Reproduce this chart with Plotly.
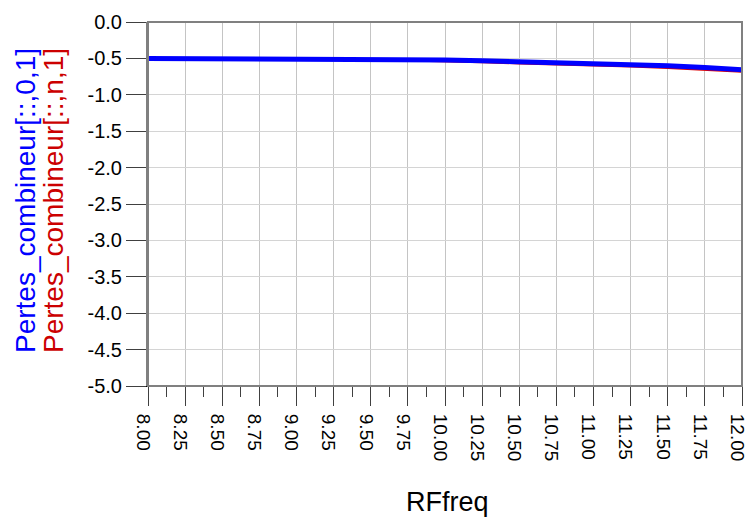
import plotly.graph_objects as go

freq = [8.00, 8.25, 8.50, 8.75, 9.00, 9.25, 9.50, 9.75, 10.00, 10.25, 10.50,
        10.75, 11.00, 11.25, 11.50, 11.75, 12.00]
pertes_0_1 = [-0.500, -0.501, -0.502, -0.503, -0.505, -0.507, -0.510, -0.515,
              -0.523, -0.532, -0.543, -0.555, -0.568, -0.585, -0.602, -0.625, -0.655]
pertes_n_1 = [-0.502, -0.504, -0.506, -0.510, -0.514, -0.518, -0.522, -0.528,
              -0.538, -0.553, -0.570, -0.582, -0.595, -0.612, -0.632, -0.655, -0.685]

x_ticks = [8.00, 8.25, 8.50, 8.75, 9.00, 9.25, 9.50, 9.75, 10.00, 10.25, 10.50,
           10.75, 11.00, 11.25, 11.50, 11.75, 12.00]
x_labels = ["%.2f" % v for v in x_ticks]
y_ticks = [0.0, -0.5, -1.0, -1.5, -2.0, -2.5, -3.0, -3.5, -4.0, -4.5, -5.0]
y_labels = ["%.1f" % v for v in y_ticks]

font = "Liberation Sans, Arial, sans-serif"

W, H = 749, 520
L, R, T, B = 148, 7, 22, 134
PW, PH = W - L - R, H - T - B

fig = go.Figure()
fig.add_trace(go.Scatter(x=freq, y=pertes_n_1, mode="lines",
                         line=dict(color="#dd0000", width=2), showlegend=False))
fig.add_trace(go.Scatter(x=freq, y=pertes_0_1, mode="lines",
                         line=dict(color="#0000ff", width=5), showlegend=False))

fig.update_layout(
    width=W, height=H,
    margin=dict(l=L, r=R, t=T, b=B),
    paper_bgcolor="white", plot_bgcolor="white",
    font=dict(family=font, size=20, color="black"),
    xaxis=dict(
        range=[8, 12], tickmode="array", tickvals=x_ticks, ticktext=x_labels,
        tickangle=90, ticks="outside", ticklen=19, tickwidth=1, tickcolor="#404040",
        tickfont=dict(size=19),
        ticklabeloverflow="allow", ticklabelstandoff=4, ticklabelshift=-5,
        automargin=False,
        showgrid=True, gridcolor="#c4c4c4", gridwidth=1,
        showline=True, linecolor="black", linewidth=1, mirror=False,
        zeroline=False,
        minor=dict(dtick=0.125, tick0=8, ticks="outside", ticklen=10,
                   tickcolor="#404040", showgrid=False),
    ),
    yaxis=dict(
        range=[-5, 0], tickmode="array", tickvals=y_ticks, ticktext=y_labels,
        ticks="outside", ticklen=20, tickwidth=1, tickcolor="#404040",
        automargin=False,
        showgrid=True, gridcolor="#d4d4d4", gridwidth=1,
        showline=True, linecolor="#808080", linewidth=2,
        zeroline=False,
    ),
    shapes=[dict(type="rect", xref="paper", yref="paper", x0=0, y0=0, x1=1, y1=1,
                 line=dict(color="#808080", width=2), layer="above")],
    annotations=[
        dict(text="RFfreq", showarrow=False,
             xref="paper", yref="paper", x=(447 - L) / PW, y=(T + PH - 502) / PH,
             xanchor="center", yanchor="middle",
             font=dict(size=27, color="black", family=font)),
        dict(text="Pertes_combineur[::,0,1]", textangle=-90, showarrow=False,
             xref="paper", yref="paper", x=(25 - L) / PW, y=(T + PH - 201) / PH,
             xanchor="center", yanchor="middle",
             font=dict(size=28, color="#0000ff", family=font)),
        dict(text="Pertes_combineur[::,n,1]", textangle=-90, showarrow=False,
             xref="paper", yref="paper", x=(53 - L) / PW, y=(T + PH - 201) / PH,
             xanchor="center", yanchor="middle",
             font=dict(size=28, color="#cc0000", family=font)),
    ],
)

fig.write_html("out.html")
